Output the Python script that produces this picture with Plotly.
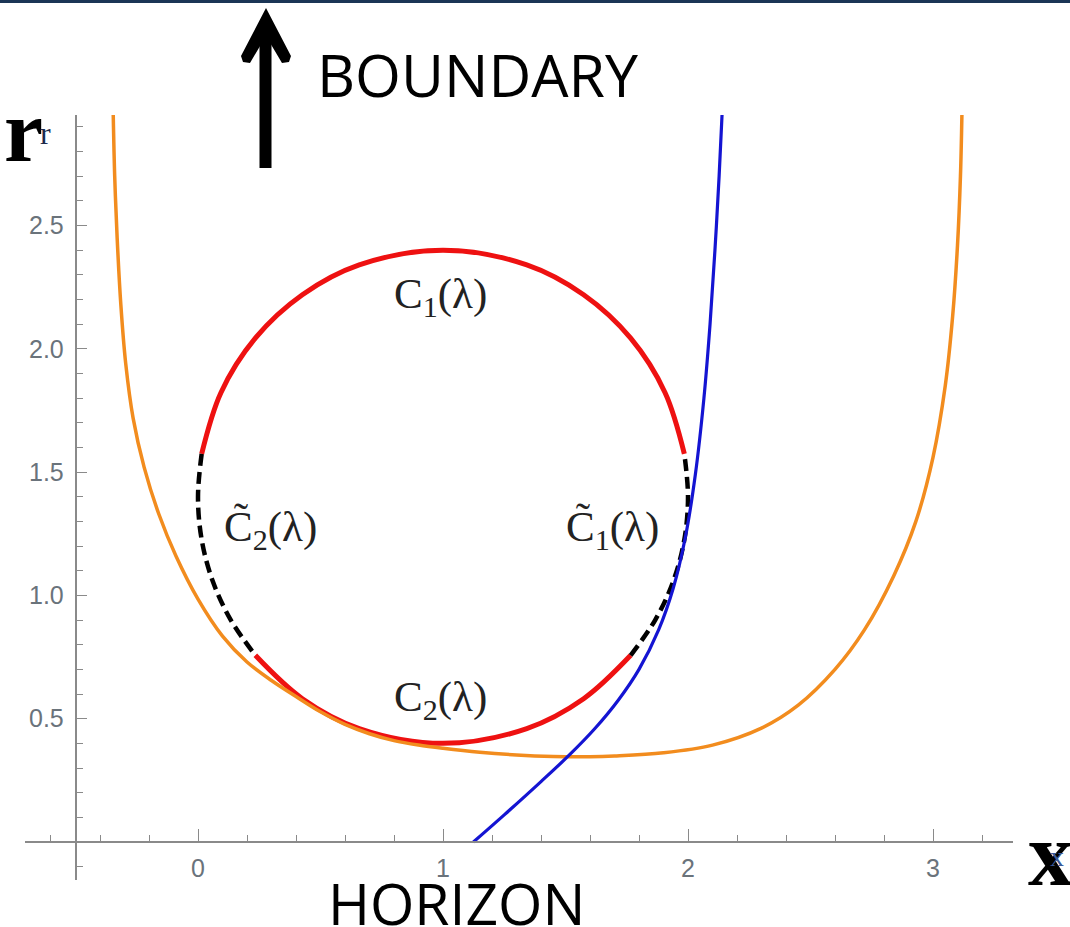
import plotly.graph_objects as go

W, H = 1070, 927

# ---------------- data ----------------
x_tick_vals = [0, 1, 2, 3]
x_tick_text = ["0", "1", "2", "3"]
y_tick_vals = [0.5, 1.0, 1.5, 2.0, 2.5]
y_tick_text = ["0.5", "1.0", "1.5", "2.0", "2.5"]

# orange curve
orange_x = [-0.346, -0.34, -0.33, -0.315, -0.295, -0.265, -0.22, -0.16, -0.09, 0.0,
            0.1, 0.2, 0.3, 0.4, 0.5, 0.6, 0.7, 0.8, 0.9, 1.0, 1.15, 1.3, 1.45, 1.6,
            1.7, 1.9, 2.1, 2.3, 2.45, 2.6, 2.72, 2.84, 2.93, 3.0, 3.05, 3.08, 3.10, 3.112, 3.118]
orange_r = [2.95, 2.70, 2.45, 2.18, 1.94, 1.72, 1.52, 1.33, 1.16, 0.985,
            0.835, 0.73, 0.655, 0.59, 0.528, 0.477, 0.439, 0.411, 0.393, 0.38, 0.364, 0.353, 0.347, 0.346,
            0.349, 0.362, 0.393, 0.462, 0.555, 0.70, 0.86, 1.08, 1.30, 1.56, 1.85, 2.13, 2.42, 2.70, 2.95]

# blue curve
blue_x = [1.124, 1.25, 1.40, 1.518, 1.62, 1.716, 1.80, 1.88, 1.94, 1.99, 2.03, 2.065,
          2.09, 2.11, 2.127, 2.139]
blue_r = [0.0, 0.11, 0.245, 0.355, 0.46, 0.576, 0.70, 0.86, 1.03, 1.24, 1.49, 1.80,
          2.10, 2.40, 2.70, 2.95]

# C1(lambda): upper red arc
c1_x = [1.985, 1.906, 1.766, 1.574, 1.342, 1.0, 0.658, 0.426, 0.234, 0.094, 0.015]
c1_r = [1.574, 1.823, 2.043, 2.219, 2.340, 2.4, 2.340, 2.219, 2.043, 1.823, 1.574]

# C2(lambda): lower red arc
c2_x = [0.234, 0.426, 0.658, 1.0, 1.342, 1.574, 1.766]
c2_r = [0.757, 0.581, 0.460, 0.4, 0.460, 0.581, 0.757]

# C~2(lambda): left dashed arc
ct2_x = [0.015, 0.0, 0.015, 0.060, 0.134, 0.234]
ct2_r = [1.574, 1.4, 1.226, 1.058, 0.900, 0.757]

# C~1(lambda): right dashed arc
ct1_x = [1.766, 1.866, 1.940, 1.985, 2.0, 1.985]
ct1_r = [0.757, 0.900, 1.058, 1.226, 1.4, 1.574]

# curve labels (position in data units)
label_text = ["C<sub>1</sub>(λ)", "C<sub>2</sub>(λ)", "C\u0303<sub>2</sub>(λ)", "C\u0303<sub>1</sub>(λ)"]
label_x = [0.988, 0.988, 0.294, 1.69]
label_r = [2.21, 0.576, 1.265, 1.265]

# ---------------- figure ----------------
RED = "#ee1111"
ORANGE = "#f28c1e"
BLUE = "#1414d2"

fig = go.Figure()
fig.add_trace(go.Scatter(x=c1_x, y=c1_r, mode="lines", line=dict(color=RED, width=5, shape="spline"), hoverinfo="skip"))
fig.add_trace(go.Scatter(x=c2_x, y=c2_r, mode="lines", line=dict(color=RED, width=5, shape="spline"), hoverinfo="skip"))
fig.add_trace(go.Scatter(x=ct2_x, y=ct2_r, mode="lines", line=dict(color="black", width=4.5, dash="12px,6px", shape="spline"), hoverinfo="skip"))
fig.add_trace(go.Scatter(x=ct1_x, y=ct1_r, mode="lines", line=dict(color="black", width=4.5, dash="12px,6px", shape="spline"), hoverinfo="skip"))
fig.add_trace(go.Scatter(x=orange_x, y=orange_r, mode="lines", line=dict(color=ORANGE, width=3.5, shape="spline"), hoverinfo="skip"))
fig.add_trace(go.Scatter(x=blue_x, y=blue_r, mode="lines", line=dict(color=BLUE, width=3.2, shape="spline"), hoverinfo="skip"))

for t, lx, lr in zip(label_text, label_x, label_r):
    fig.add_annotation(x=lx, y=lr, xref="x", yref="y", text=t, showarrow=False,
                       xanchor="center", yanchor="middle",
                       font=dict(family="Liberation Serif", size=43, color="#222222"))

AX = "#8a8a8a"
TICKFONT = dict(family="Liberation Sans, Arial", size=25, color="#6a737b")


def px2x(px):
    return px / W


def py2y(py):
    return 1 - py / H


fig.update_layout(
    width=W, height=H,
    margin=dict(l=0, r=0, t=0, b=0),
    paper_bgcolor="white", plot_bgcolor="white",
    showlegend=False,
    xaxis=dict(
        domain=[px2x(25), px2x(1013)], range=[-0.7061, 3.3265],
        anchor="free", position=py2y(842),
        showgrid=False, zeroline=False,
        showline=True, linecolor=AX, linewidth=1.5,
        tickmode="array", tickvals=x_tick_vals, ticktext=x_tick_text,
        ticks="inside", ticklen=12, tickwidth=1.3, tickcolor=AX,
        ticklabelstandoff=4,
        minor=dict(tick0=0, dtick=0.2, ticks="inside", ticklen=6, tickwidth=1.2, tickcolor=AX, showgrid=False),
        tickfont=TICKFONT, fixedrange=True,
    ),
    yaxis=dict(
        domain=[py2y(880), py2y(115)], range=[-0.1541, 2.948],
        anchor="free", position=px2x(75.5),
        showgrid=False, zeroline=False,
        showline=True, linecolor=AX, linewidth=1.5,
        tickmode="array", tickvals=y_tick_vals, ticktext=y_tick_text,
        ticks="inside", ticklen=11, tickwidth=1.3, tickcolor=AX,
        ticklabelstandoff=6,
        minor=dict(tick0=0, dtick=0.1, ticks="inside", ticklen=7, tickwidth=1.2, tickcolor=AX, showgrid=False),
        tickfont=TICKFONT, fixedrange=True,
    ),
)

# top dark border
fig.add_shape(type="rect", xref="paper", yref="paper", x0=0, x1=1, y0=py2y(3), y1=1,
              line=dict(width=0), fillcolor="#1b3556", layer="above")

# boundary arrow: shaft + head
fig.add_shape(type="rect", xref="paper", yref="paper",
              x0=px2x(259.5), x1=px2x(271.5), y0=py2y(168), y1=py2y(30),
              line=dict(width=0), fillcolor="black")
head = [(266, 8), (241, 56), (243, 62), (250, 63), (266, 36), (282, 63), (289, 62), (291, 56)]
path = "M " + " L ".join(f"{px2x(a):.5f},{py2y(b):.5f}" for a, b in head) + " Z"
fig.add_shape(type="path", xref="paper", yref="paper", path=path,
              line=dict(width=0), fillcolor="black")


def paper_text(px, py, text, size, family, color):
    fig.add_annotation(x=px2x(px), y=py2y(py), xref="paper", yref="paper", text=text,
                       showarrow=False, xanchor="center", yanchor="middle",
                       font=dict(family=family, size=size, color=color))


paper_text(477, 74, "BOUNDARY", 59, "Open Sans", "black")
paper_text(456, 903, "HORIZON", 57, "Open Sans", "black")

# axis name glyphs
paper_text(23, 131, "<b>r</b>", 88, "Liberation Serif", "black")
paper_text(45, 133, "r", 32, "Liberation Serif", "#1c2a4a")
paper_text(1050, 854, "<b>x</b>", 90, "Liberation Serif", "black")
paper_text(1057, 856, "x", 28, "Liberation Serif", "#3a5a9a")

fig.write_html("out.html", config={"displayModeBar": False},
               post_script="document.body.style.margin='0px';document.body.style.overflow='hidden';")
